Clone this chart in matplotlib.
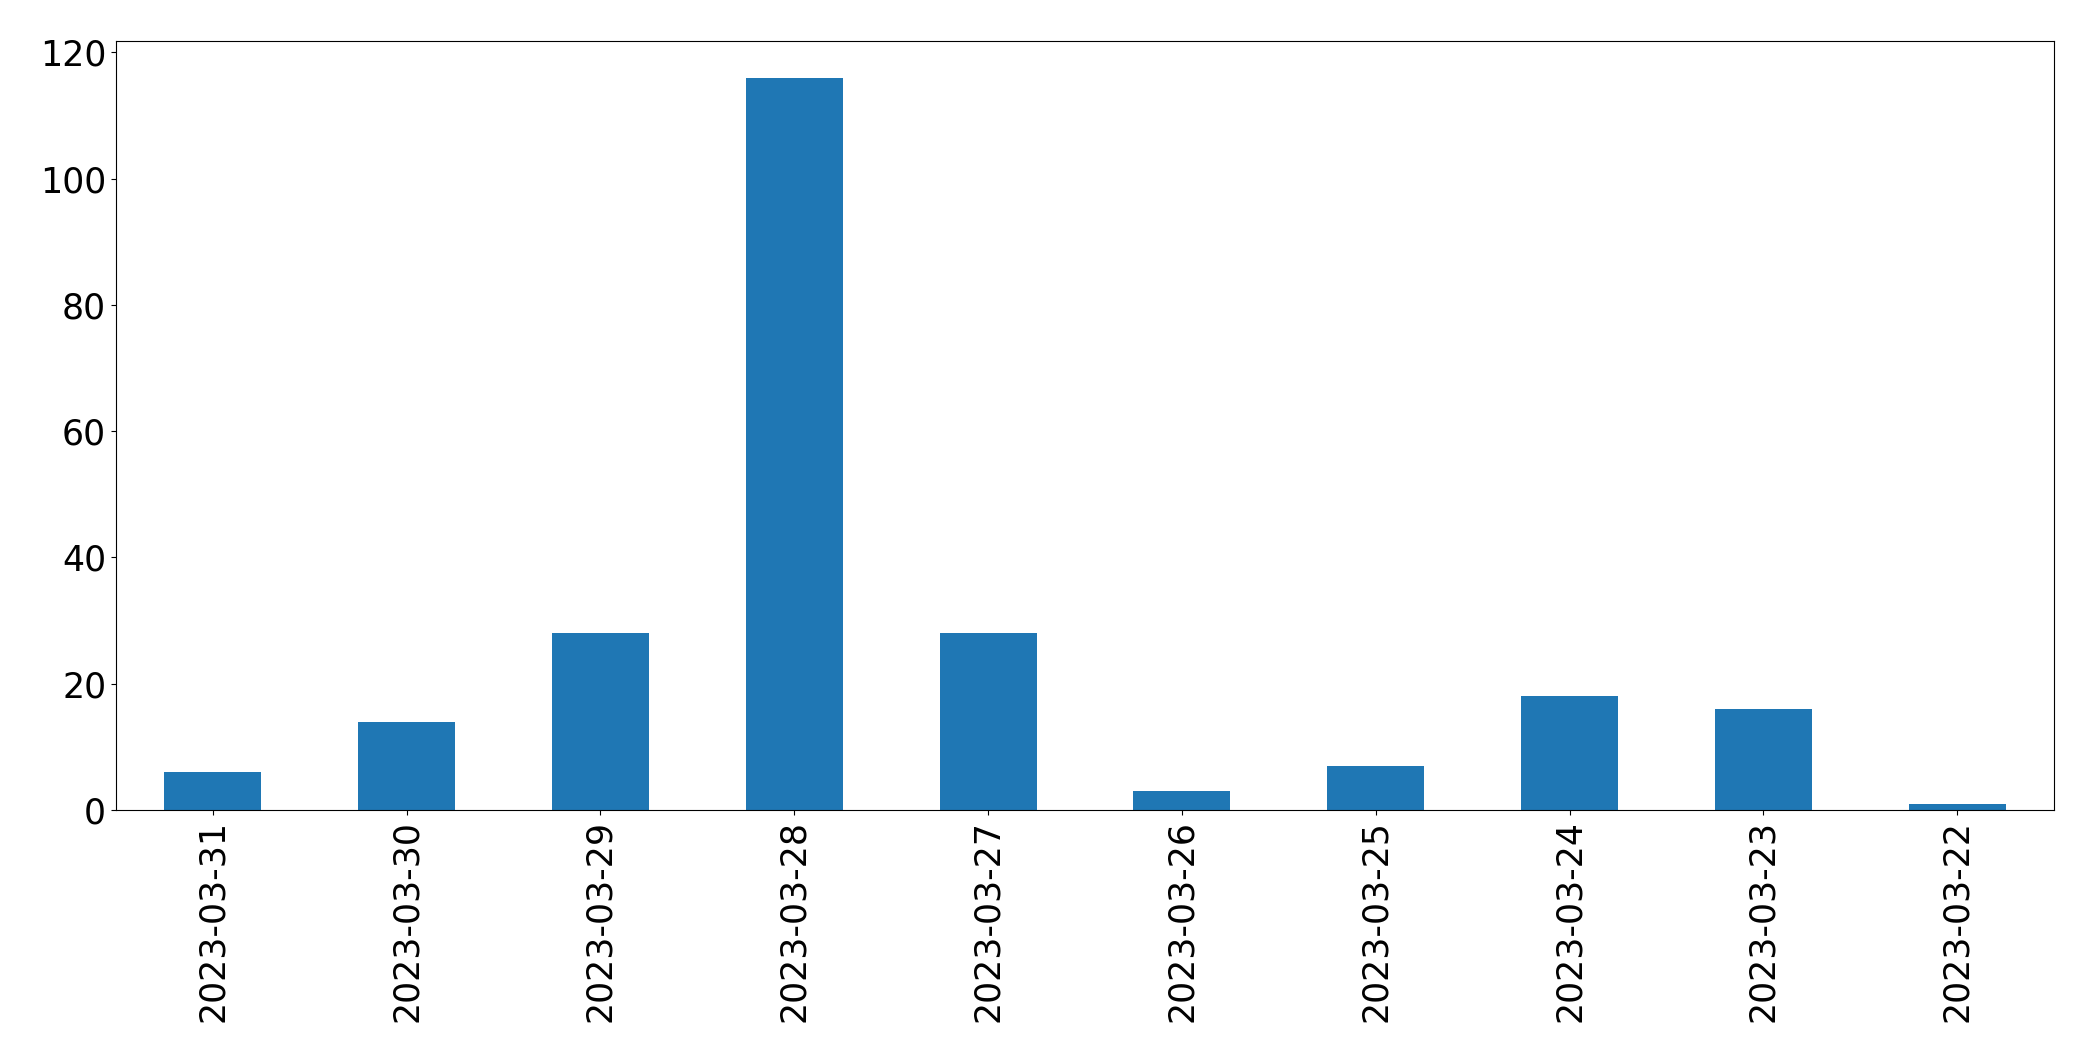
import pandas as pd
import matplotlib
matplotlib.use("Agg")
import matplotlib.pyplot as plt

dates = ['2023-03-31', '2023-03-30', '2023-03-29', '2023-03-28', '2023-03-27',
         '2023-03-26', '2023-03-25', '2023-03-24', '2023-03-23', '2023-03-22']
counts = [6, 14, 28, 116, 28, 3, 7, 18, 16, 1]

s = pd.Series(counts, index=dates)

fig = plt.figure(figsize=(20.93, 10.63), dpi=100)
ax = fig.add_subplot(111)
s.plot(kind='bar', ax=ax, fontsize=25)
plt.subplots_adjust(left=0.0554, right=0.9814, top=0.9614, bottom=0.238)
plt.savefig('out.png', dpi=100)
